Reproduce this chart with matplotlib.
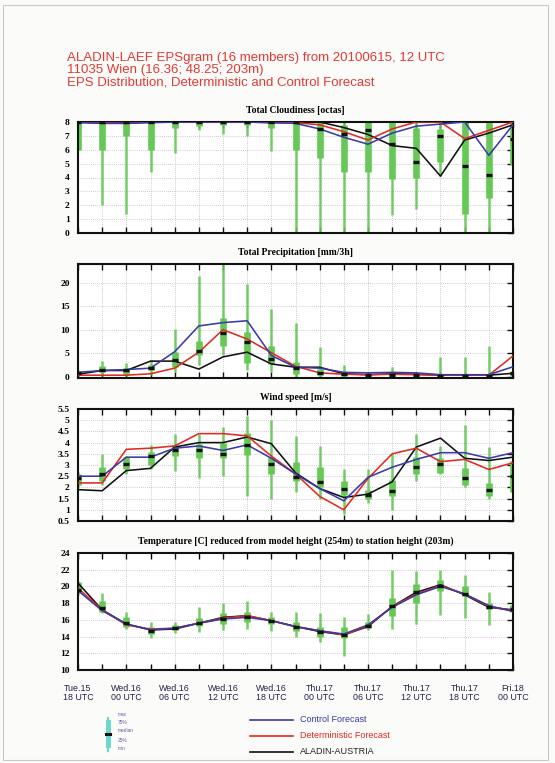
import matplotlib
matplotlib.use("Agg")
import matplotlib.pyplot as plt
from matplotlib.patches import Rectangle
from matplotlib.lines import Line2D
import numpy as np

# ---------------- data ----------------
steps = list(range(19))
tick_labels = ["Tue.15\n18 UTC", "Wed.16\n00 UTC", "Wed.16\n06 UTC", "Wed.16\n12 UTC",
               "Wed.16\n18 UTC", "Thu.17\n00 UTC", "Thu.17\n06 UTC", "Thu.17\n12 UTC",
               "Thu.17\n18 UTC", "Fri.18\n00 UTC"]

# Total cloudiness [octas]
cloud_min = [6.0, 2.0, 1.4, 4.4, 5.8, 7.4, 7.1, 7.0, 5.9, 0.0, 0.0, 0.0, 0.0, 1.3, 1.7, 4.1, 0.0, 0.0, 4.7]
cloud_q25 = [6.0, 6.0, 7.0, 6.0, 7.6, 7.7, 7.8, 7.8, 7.6, 6.0, 5.4, 4.4, 4.4, 3.9, 4.0, 5.1, 1.4, 2.5, 4.9]
cloud_med = [8.0, 8.0, 8.0, 8.0, 8.0, 8.0, 8.0, 8.0, 8.0, 8.0, 7.5, 7.1, 7.4, 6.4, 5.1, 7.0, 4.8, 4.2, 6.8]
cloud_q75 = [8.0, 8.0, 8.0, 8.0, 8.0, 8.0, 8.0, 8.0, 8.0, 8.0, 8.0, 7.8, 8.0, 8.0, 7.6, 7.5, 8.0, 8.0, 8.0]
cloud_max = [8.0, 8.0, 8.0, 8.0, 8.0, 8.0, 8.0, 8.0, 8.0, 8.0, 8.0, 8.0, 8.0, 8.0, 8.0, 8.0, 8.0, 8.0, 8.0]
cloud_ctrl = [7.95, 7.9, 7.9, 7.95, 8.0, 8.0, 8.0, 8.0, 7.95, 7.9, 7.5, 6.9, 6.4, 7.2, 7.7, 7.85, 8.0, 5.6, 7.8]
cloud_det = [8.0, 7.95, 7.9, 8.0, 8.0, 8.0, 8.0, 8.0, 7.95, 7.95, 7.8, 7.3, 6.7, 7.5, 8.0, 8.0, 6.8, 7.4, 8.0]
cloud_ala = [8.0, 7.95, 7.95, 8.0, 8.0, 8.0, 8.0, 8.0, 8.0, 8.0, 8.0, 7.6, 7.1, 6.3, 6.1, 4.1, 6.7, 7.2, 7.8]

# Total precipitation [mm/3h]
prec_min = [0.0, 0.2, 0.1, 0.3, 1.0, 2.5, 4.5, 1.5, 1.0, 0.0, 0.0, 0.0, 0.0, 0.0, 0.0, 0.0, 0.0, 0.0, 0.0]
prec_q25 = [0.3, 0.9, 0.5, 1.3, 2.1, 4.5, 6.5, 3.0, 2.7, 0.6, 0.4, 0.1, 0.1, 0.1, 0.1, 0.1, 0.1, 0.1, 0.1]
prec_med = [0.8, 1.4, 1.3, 1.8, 3.5, 5.4, 9.3, 7.3, 3.8, 1.9, 0.8, 0.5, 0.3, 0.3, 0.3, 0.2, 0.2, 0.2, 0.8]
prec_q75 = [0.9, 2.2, 1.5, 2.5, 5.2, 7.6, 12.5, 9.5, 6.5, 3.1, 1.7, 0.8, 0.4, 0.5, 0.4, 0.3, 0.3, 0.3, 1.0]
prec_max = [1.5, 3.3, 2.9, 3.5, 10.2, 21.5, 24.0, 19.8, 14.5, 11.4, 6.3, 2.4, 0.8, 2.0, 0.8, 4.1, 4.1, 6.6, 1.8]
prec_ctrl = [0.9, 1.3, 1.5, 1.8, 5.3, 10.8, 11.5, 11.9, 4.5, 2.0, 1.8, 0.9, 0.8, 0.9, 0.8, 0.4, 0.4, 0.4, 2.1]
prec_det = [0.3, 0.3, 0.3, 0.6, 1.8, 5.2, 10.0, 8.0, 5.1, 2.2, 0.8, 0.5, 0.4, 0.5, 0.4, 0.3, 0.3, 0.3, 4.4]
prec_ala = [0.5, 1.3, 1.3, 3.3, 3.3, 1.6, 4.2, 5.2, 2.7, 2.0, 2.0, 0.6, 0.4, 0.6, 0.5, 0.3, 0.3, 0.3, 0.7]

# Wind speed [m/s]
wind_min = [2.0, 2.1, 2.6, 2.8, 2.75, 2.4, 2.5, 1.6, 1.5, 1.8, 1.5, 0.8, 1.3, 1.0, 2.3, 2.6, 2.0, 1.5, 1.6]
wind_q25 = [2.1, 2.3, 2.8, 3.0, 3.4, 3.3, 3.3, 3.45, 2.6, 2.3, 2.0, 1.65, 1.5, 1.6, 2.6, 2.65, 2.1, 1.6, 1.8]
wind_med = [2.4, 2.6, 3.05, 3.4, 3.65, 3.65, 3.5, 3.9, 3.05, 2.45, 2.25, 1.95, 1.65, 1.85, 2.9, 3.05, 2.4, 1.9, 2.5]
wind_q75 = [2.6, 2.9, 3.35, 3.6, 3.9, 3.95, 4.0, 4.45, 3.35, 3.15, 2.9, 2.3, 1.9, 2.35, 3.35, 3.3, 2.85, 2.2, 3.2]
wind_max = [2.7, 3.5, 3.4, 3.9, 4.4, 4.4, 4.7, 5.2, 5.0, 4.3, 3.85, 2.8, 2.8, 3.55, 4.4, 3.85, 4.8, 3.8, 3.2]
wind_ctrl = [2.5, 2.5, 3.35, 3.35, 3.75, 3.85, 3.65, 3.9, 3.3, 2.6, 1.95, 1.4, 2.45, 2.9, 3.25, 3.55, 3.55, 3.3, 3.55]
wind_det = [2.2, 2.2, 3.7, 3.75, 3.85, 4.4, 4.4, 4.3, 3.4, 2.6, 1.6, 1.0, 2.4, 3.5, 3.75, 3.15, 3.25, 2.8, 3.1]
wind_ala = [1.9, 1.85, 2.75, 2.85, 3.8, 4.0, 4.0, 4.25, 3.95, 2.65, 1.95, 1.55, 1.7, 2.25, 3.8, 4.2, 3.3, 3.2, 3.35]

# Temperature [C]
temp_min = [19.0, 16.8, 14.9, 13.8, 14.4, 14.5, 14.8, 14.9, 14.7, 13.9, 13.3, 11.7, 14.8, 14.9, 15.5, 16.6, 16.2, 15.4, 16.9]
temp_q25 = [19.3, 17.0, 15.2, 14.3, 14.8, 15.3, 15.5, 15.7, 15.5, 14.7, 14.0, 13.8, 15.0, 16.5, 18.0, 19.4, 18.8, 17.3, 17.0]
temp_med = [19.6, 17.4, 15.6, 14.7, 15.0, 15.6, 16.1, 16.4, 15.9, 15.1, 14.6, 14.2, 15.3, 17.6, 19.3, 20.1, 19.1, 17.5, 17.3]
temp_q75 = [20.5, 18.2, 16.4, 15.2, 15.4, 16.2, 16.8, 16.9, 16.3, 15.7, 15.2, 15.1, 15.8, 18.6, 20.3, 20.8, 20.0, 18.0, 17.8]
temp_max = [20.7, 19.2, 17.0, 15.8, 15.8, 17.5, 18.0, 18.2, 17.0, 17.0, 16.8, 16.4, 16.7, 22.0, 21.8, 22.0, 21.4, 19.3, 18.0]
temp_ctrl = [19.5, 17.1, 15.5, 14.8, 15.0, 15.6, 16.1, 16.3, 15.9, 15.2, 14.7, 14.3, 15.4, 17.5, 19.0, 20.0, 19.1, 17.7, 17.0]
temp_det = [19.8, 17.2, 15.4, 14.9, 15.0, 15.6, 16.2, 16.5, 15.9, 15.2, 14.7, 14.2, 15.3, 17.6, 19.1, 20.1, 19.1, 17.6, 17.1]
temp_ala = [20.4, 17.2, 15.5, 14.8, 14.9, 15.6, 16.3, 16.5, 15.9, 15.2, 14.6, 14.2, 15.2, 17.6, 19.3, 20.2, 19.0, 17.5, 17.2]

# ---------------- style ----------------
GREEN = "#66c856"
BLUE = "#3a3aa8"
RED = "#e02a22"
BLACK = "#111111"
SERIF = ["Liberation Serif", "DejaVu Serif"]
SANS = ["Liberation Sans", "DejaVu Sans"]

fig = plt.figure(figsize=(5.55, 7.63), dpi=100, facecolor="#fbfbf9")

def px_axes(top, bottom, left=78, right=513):
    W, H = 555.0, 763.0
    return fig.add_axes([left / W, 1 - bottom / H, (right - left) / W, (bottom - top) / H])

panels = [
    dict(top=122, bottom=233, title="Total Cloudiness [octas]", ylim=(0, 8), yticks=np.arange(0, 9, 1),
         d=(cloud_min, cloud_q25, cloud_med, cloud_q75, cloud_max, cloud_ctrl, cloud_det, cloud_ala)),
    dict(top=264, bottom=378, title="Total Precipitation [mm/3h]", ylim=(-0.3, 24), yticks=np.arange(0, 21, 5),
         d=(prec_min, prec_q25, prec_med, prec_q75, prec_max, prec_ctrl, prec_det, prec_ala)),
    dict(top=409, bottom=521, title="Wind speed [m/s]", ylim=(0.5, 5.5), yticks=np.arange(0.5, 5.6, 0.5),
         d=(wind_min, wind_q25, wind_med, wind_q75, wind_max, wind_ctrl, wind_det, wind_ala)),
    dict(top=553, bottom=670, title="Temperature [C] reduced from model height (254m) to station height (203m)",
         ylim=(10, 24), yticks=np.arange(10, 25, 2),
         d=(temp_min, temp_q25, temp_med, temp_q75, temp_max, temp_ctrl, temp_det, temp_ala)),
]

for k, p in enumerate(panels):
    ax = px_axes(p["top"], p["bottom"])
    ax.set_facecolor("white")
    mn, q25, med, q75, mx, ctrl, det, ala = p["d"]
    ax.vlines(steps, mn, mx, color=GREEN, lw=1.8, zorder=2, alpha=0.9)
    ax.vlines(steps, q25, q75, color=GREEN, lw=4.8, zorder=2)
    ax.plot(steps, ala, color=BLACK, lw=1.15, zorder=4)
    ax.plot(steps, det, color=RED, lw=1.15, zorder=4)
    ax.plot(steps, ctrl, color=BLUE, lw=1.15, zorder=4)
    ax.plot(steps, med, ls="none", marker="_", ms=4.0, mew=2.4, color=BLACK, zorder=5)
    ax.set_xlim(0, 18)
    ax.set_ylim(*p["ylim"])
    ax.set_yticks(p["yticks"])
    ax.set_yticklabels(["{:g}".format(v) for v in p["yticks"]],
                       fontfamily=SERIF, fontweight="bold", fontsize=6.8)
    ax.set_xticks(steps)
    ax.tick_params(axis="both", direction="in", length=4, width=1.0, color=BLACK,
                   top=True, right=True, pad=3)
    ax.tick_params(axis="y", left=False, pad=6)
    ax.grid(True, color="#bbbbbb", lw=0.6, ls=(0, (1, 1.5)))
    for s in ax.spines.values():
        s.set_linewidth(1.5)
        s.set_color(BLACK)
    if k == 3:
        ax.set_xticks(steps[::2], labels=tick_labels)
        ax.set_xticks(steps, minor=True)
        ax.tick_params(axis="x", which="both", direction="in", length=4, width=1.0, top=True, pad=10)
        for t in ax.get_xticklabels():
            t.set_fontfamily(SANS)
            t.set_fontsize(6.4)
            t.set_color("#22224a")
            t.set_linespacing(1.05)
    else:
        ax.set_xticklabels([])
    ax.set_title(p["title"], fontfamily=SERIF, fontweight="bold", fontsize=6.9, pad=6.5)

# main title
fig.text(67 / 555, 1 - 52 / 763,
         "ALADIN-LAEF EPSgram (16 members) from 20100615, 12 UTC\n"
         "11035 Wien (16.36; 48.25; 203m)\n"
         "EPS Distribution, Deterministic and Control Forecast",
         color="#e03a33", fontfamily=SANS, fontsize=9.5, va="top", ha="left", linespacing=1.02)

# legend: box glyph
CYAN = "#6fd8cc"
def fx(x): return x / 555.0
def fy(y): return 1 - y / 763.0
fig.add_artist(Line2D([fx(108), fx(108)], [fy(718), fy(751)], color=CYAN, lw=1.6))
fig.add_artist(Line2D([fx(108), fx(108)], [fy(722), fy(745)], color=CYAN, lw=3.6))
fig.add_artist(Line2D([fx(106), fx(110)], [fy(734), fy(734)], color=BLACK, lw=2.2))
for lab, y in zip(["max", "75%", "median", "25%", "min"], [715, 722, 731, 740, 748]):
    fig.text(fx(118), fy(y), lab, fontsize=3.4, color="#5a5ab0", fontfamily=SANS, va="center")

for lab, col, y in zip(["Control Forecast", "Deterministic Forecast", "ALADIN-AUSTRIA"],
                       [BLUE, RED, BLACK], [720, 736, 752]):
    fig.add_artist(Line2D([fx(250), fx(293)], [fy(y), fy(y)], color=col, lw=1.2))
    fig.text(fx(300), fy(y), lab, fontsize=6.5, color=col if col != BLACK else "#222222",
             fontfamily=SANS, va="center")

# page frame
fig.add_artist(Rectangle((0.006, 0.004), 0.982, 0.99, transform=fig.transFigure, fill=False,
                         ec="#c8c8c8", lw=0.8))

fig.savefig("out.png", dpi=100, facecolor=fig.get_facecolor())
